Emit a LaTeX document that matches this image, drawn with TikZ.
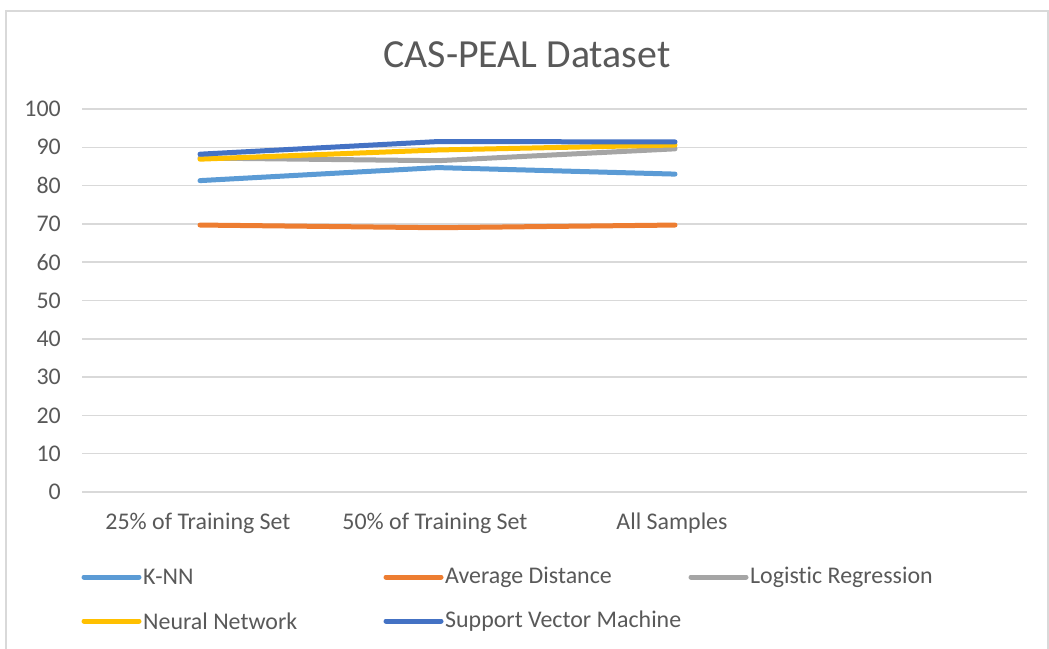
\documentclass[tikz,border=0pt]{standalone}
\usepackage{fontspec}
\setmainfont{Carlito}[Ligatures={NoCommon}]
\usetikzlibrary{positioning}

\definecolor{knn}{HTML}{5B9BD5}
\definecolor{avgdist}{HTML}{ED7D31}
\definecolor{logreg}{HTML}{A5A5A5}
\definecolor{neural}{HTML}{FFC000}
\definecolor{svm}{HTML}{4472C4}
\definecolor{gridgray}{HTML}{D9D9D9}
\definecolor{textgray}{HTML}{595959}

\begin{document}
\begin{tikzpicture}[
  x=1bp, y=-1bp,
  gridline/.style={draw=gridgray, line width=1.5bp},
  series/.style={line width=5bp, line cap=round, line join=round},
  lbl/.style={text=textgray, inner sep=0pt, font=\fontsize{24}{28}\selectfont},
  keyline/.style={line width=5bp, line cap=round}
]
\useasboundingbox (0,0) rectangle (1049,649);
\clip (0,0) rectangle (1049,649);
\fill[white] (0,0) rectangle (1049,649);
\draw[gridgray, line width=1.5bp] (6,11) rectangle (1048,700);

\node[lbl, font=\fontsize{40}{46}\selectfont] (title) at (527,55) {CAS-PEAL Dataset};

% value axis and grid
\begin{scope}[shift={(0,492)}, y=3.83bp]
  \foreach \v in {0,10,...,100} {
    \draw[gridline] (82,\v) -- (1027,\v);
    \node[lbl, anchor=east] (tick\v) at (61,\v) {\v};
  }
  % one line per classifier
  \draw[series, knn]     (200,81.3) -- (438,84.7) -- (675,83.0);
  \draw[series, avgdist] (200,69.7) -- (438,69.0) -- (675,69.7);
  \draw[series, logreg]  (200,87.2) -- (438,86.5) -- (675,89.6);
  \draw[series, neural]  (200,86.9) -- (438,89.3) -- (675,90.6);
  \draw[series, svm]     (200,88.2) -- (438,91.5) -- (675,91.4);
\end{scope}

% categories
\node[lbl] (cat1) at (198,523) {25\% of Training Set};
\node[lbl] (cat2) at (435,523) {50\% of Training Set};
\node[lbl] (cat3) at (672,523) {All Samples};

% legend
\foreach \n/\c/\x/\y/\t in {k/knn/84/577/K-NN, a/avgdist/386/577/Average Distance,
    l/logreg/691/577/Logistic Regression, n/neural/84/621/Neural Network,
    s/svm/386/621/Support Vector Machine} {
  \coordinate (\n1) at (\x,\y);
  \coordinate (\n2) at (\x+55,\y);
  \draw[keyline, \c] (\n1) -- (\n2);
  \node[lbl, anchor=west, right=4bp of \n2] (key\n) {\t};
}
\end{tikzpicture}
\end{document}
